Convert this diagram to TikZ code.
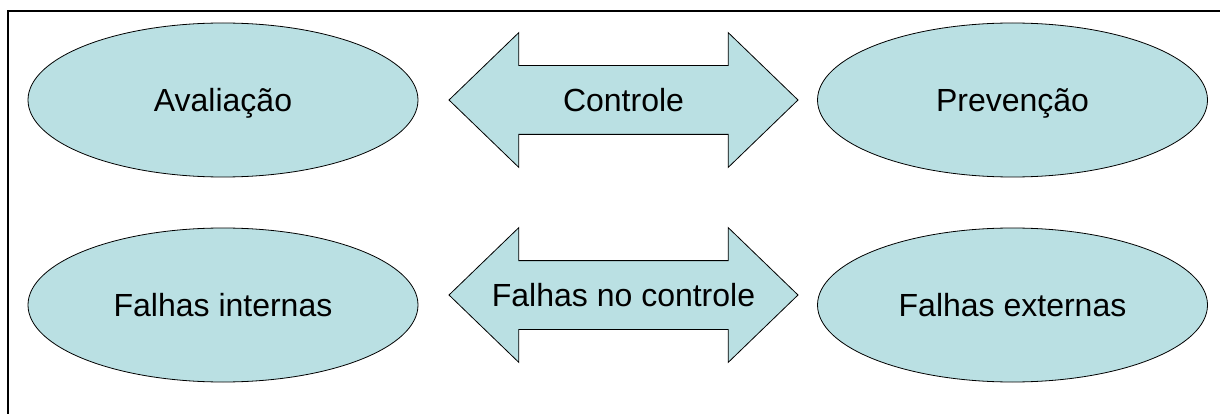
\documentclass[tikz,border=0pt]{standalone}
\usepackage{fontspec}
\setmainfont{Liberation Sans}
\usetikzlibrary{shapes.geometric, shapes.arrows}
\definecolor{azulclaro}{RGB}{186,224,227}

\begin{document}
\begin{tikzpicture}[x=1pt, y=-1pt,
	texto/.style={font=\fontsize{32}{38}\selectfont, text height=23pt, text depth=0pt},
	elipse/.style={texto, ellipse, draw, line width=0.8pt, fill=azulclaro,
		minimum width=390pt, minimum height=154pt, inner sep=0pt},
	seta/.style={texto, double arrow, draw, line width=0.8pt, fill=azulclaro,
		minimum height=349pt, minimum width=134pt, double arrow head extend=33pt,
		double arrow tip angle=88, inner xsep=2pt, inner ysep=22.5pt}]
	%%%	Moldura
	\useasboundingbox (0,0) rectangle (1220,414);
	\draw[line width=1.6pt] (8,11) rectangle (1240,440);
	
	% Custos de controle
	\node[elipse] (aval) at (223,100) {Avaliação};
	\node[seta] (ctrl) at (623.5,100) {Controle};
	\node[elipse] (prev) at (1012.5,100) {Prevenção};
	
	% Custos das falhas
	\node[elipse] (fint) at (223,305) {Falhas internas};
	\node[seta] (fctrl) at (623.5,295) {Falhas no controle};
	\node[elipse] (fext) at (1012.5,305) {Falhas externas};
	
\end{tikzpicture}
\end{document}
